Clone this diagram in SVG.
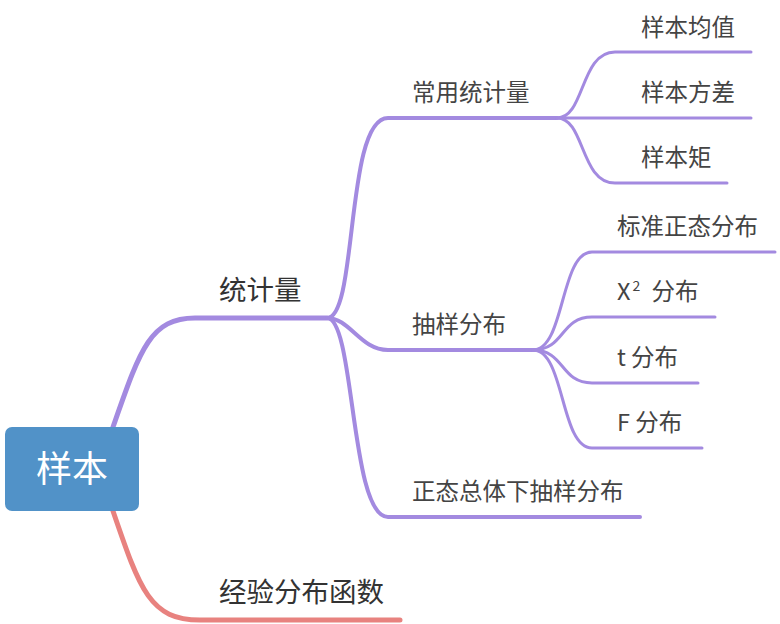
<svg xmlns="http://www.w3.org/2000/svg" width="780" height="624" viewBox="0 0 780 624">
<style>
text{font-family:"Noto Sans CJK SC","Noto Sans",sans-serif;fill:#444;}
.l1{font-size:27.5px;fill:#333;}
.l2{font-size:23.5px;}
.p{fill:none;stroke:#A38AE0;stroke-linecap:round;}
.w1{stroke-width:5;}
.w2{stroke-width:4;}
.w3{stroke-width:3;}
.red{stroke:#E8827F;}
</style>
<rect width="780" height="624" fill="#fff"/>
<g id="connectors">
<path class="p w1" d="M113 427 C140 350 150 318 195 318 L327 318"/>
<path class="p w1 red" d="M113 511 C140 590 150 620 200 620 L400 620"/>
<path class="p w2" d="M327 318 C358 318 345 118 388 118 L557 118"/>
<path class="p w2" d="M327 318 C350 318 360 350 388 350 L535 350"/>
<path class="p w2" d="M327 318 C355 318 350 517 388 517 L640 517"/>
<path class="p w3" d="M557 118 C585 118 580 52 615 52 L751 52"/>
<path class="p w3" d="M557 118 L751 118"/>
<path class="p w3" d="M557 118 C585 118 580 183 615 183 L727 183"/>
<path class="p w3" d="M533 350 C565 350 560 252 592 252 L775 252"/>
<path class="p w3" d="M533 350 C565 350 560 317 592 317 L715 317"/>
<path class="p w3" d="M533 350 C565 350 560 383 592 383 L698 383"/>
<path class="p w3" d="M533 350 C565 350 560 448 592 448 L702 448"/>
</g>
<g id="root">
<rect x="5" y="427" width="134" height="84" rx="7" fill="#5192C8"/>
<text x="72" y="482" text-anchor="middle" style="font-size:36px;fill:#fff">样本</text>
</g>
<g id="n-tongjiliang"><text class="l1" x="219" y="300">统计量</text></g>
<g id="n-jingyan"><text class="l1" x="219" y="602">经验分布函数</text></g>
<g id="n-changyong"><text class="l2" x="412" y="101">常用统计量</text></g>
<g id="n-chouyang"><text class="l2" x="412" y="333">抽样分布</text></g>
<g id="n-zhengtai"><text class="l2" x="412" y="500">正态总体下抽样分布</text></g>
<g id="n-junzhi"><text class="l2" x="641" y="36">样本均值</text></g>
<g id="n-fangcha"><text class="l2" x="641" y="101">样本方差</text></g>
<g id="n-ju"><text class="l2" x="641" y="166">样本矩</text></g>
<g id="n-biaozhun"><text class="l2" x="617" y="235">标准正态分布</text></g>
<g id="n-kafang"><text class="l2" x="617" y="300">X<tspan dx="2" dy="-9" style="font-size:14px">2</tspan><tspan dx="6" dy="9"> 分布</tspan></text></g>
<g id="n-t"><text class="l2" x="617" y="366">t 分布</text></g>
<g id="n-f"><text class="l2" x="617" y="431">F 分布</text></g>
</svg>
